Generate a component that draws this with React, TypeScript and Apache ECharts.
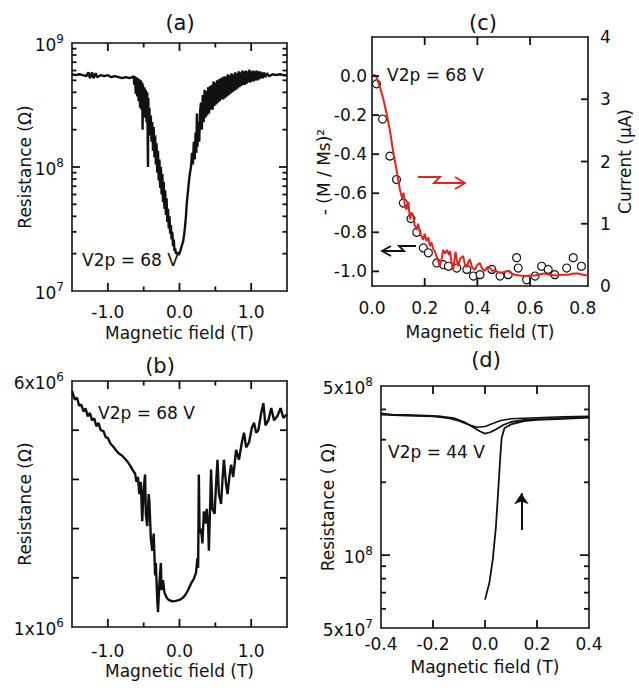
import React, { useEffect, useRef } from 'react';
import * as echarts from 'echarts';

const FONT = '"DejaVu Sans", "Liberation Sans", sans-serif';
const INK = '#111111';
const RED = '#e3241c';

// ---------- Panel (a): resistance vs field, V2p = 68 V ----------
const aFieldLabels = [-1, 0, 1];
const aResLabels = [1e7, 1e8, 1e9];
const aFieldMajor = [-1, 0, 1];
const aFieldMinor = [-0.5, 0.5];
const aResMajor = [1e8];
const aResMinor = [2e7, 3e7, 4e7, 5e7, 6e7, 7e7, 8e7, 9e7, 2e8, 3e8, 4e8, 5e8, 6e8, 7e8, 8e8, 9e8];
const aTrace: [number, number][] = [
  [-1.5, 5.6e8], [-1.45, 5.5e8], [-1.4, 5.6e8], [-1.35, 5.5e8], [-1.3, 5.4e8], [-1.27, 5.8e8], [-1.25, 5.2e8],
  [-1.22, 5.8e8], [-1.2, 5.2e8], [-1.17, 5.7e8], [-1.15, 5.3e8], [-1.1, 5.5e8], [-1.05, 5.4e8], [-1.0, 5.5e8],
  [-0.95, 5.3e8], [-0.9, 5.4e8], [-0.85, 5.3e8], [-0.8, 5.2e8], [-0.75, 5.3e8], [-0.7, 5.2e8], [-0.66, 5.3e8],
  [-0.64, 5.4e8], [-0.63, 4.6e8], [-0.62, 5.4e8], [-0.61, 3.9e8], [-0.6, 5.3e8], [-0.59, 3.7e8], [-0.58, 5.2e8],
  [-0.57, 3.4e8], [-0.56, 5.1e8], [-0.55, 3.0e8], [-0.54, 5.0e8], [-0.53, 2.9e8], [-0.52, 4.8e8], [-0.515, 2.0e8],
  [-0.51, 4.6e8], [-0.5, 2.7e8], [-0.49, 4.4e8], [-0.48, 2.5e8], [-0.47, 4.2e8], [-0.46, 2.3e8], [-0.45, 4.0e8],
  [-0.44, 1.0e8], [-0.435, 3.6e8], [-0.43, 2.0e8], [-0.42, 3.0e8], [-0.41, 1.8e8], [-0.4, 2.6e8], [-0.39, 1.6e8],
  [-0.38, 2.3e8], [-0.37, 1.35e8], [-0.36, 2.1e8], [-0.35, 1.2e8], [-0.34, 1.8e8], [-0.33, 1.05e8], [-0.32, 1.55e8],
  [-0.31, 9.0e7], [-0.3, 1.35e8], [-0.29, 7.8e7], [-0.28, 1.15e8], [-0.27, 6.8e7], [-0.26, 1.0e8], [-0.25, 6.0e7],
  [-0.24, 8.8e7], [-0.23, 5.2e7], [-0.22, 7.6e7], [-0.21, 4.6e7], [-0.2, 6.5e7], [-0.19, 4.1e7], [-0.18, 5.6e7],
  [-0.17, 3.6e7], [-0.16, 4.6e7], [-0.15, 3.2e7], [-0.14, 4.0e7], [-0.13, 2.9e7], [-0.12, 3.4e7], [-0.11, 2.6e7],
  [-0.1, 3.0e7], [-0.09, 2.3e7], [-0.08, 2.6e7], [-0.07, 2.1e7], [-0.06, 2.2e7], [-0.05, 2.0e7], [-0.03, 2.05e7],
  [-0.01, 1.95e7], [0.01, 2.1e7], [0.03, 2.3e7], [0.05, 2.5e7], [0.07, 3.0e7], [0.09, 4.0e7], [0.1, 5.0e7],
  [0.12, 6.5e7], [0.14, 8.5e7], [0.16, 1.0e8], [0.175, 1.3e8], [0.187, 1.05e8], [0.2, 1.6e8], [0.212, 1.15e8],
  [0.225, 1.9e8], [0.235, 1.3e8], [0.243, 2.7e8], [0.25, 1.45e8], [0.262, 2.3e8], [0.275, 1.6e8], [0.287, 2.8e8],
  [0.3, 3.3e8], [0.312, 2.0e8], [0.325, 3.8e8], [0.337, 2.3e8], [0.35, 4.2e8], [0.362, 2.5e8], [0.375, 4.1e8],
  [0.387, 2.6e8], [0.4, 4.4e8], [0.412, 2.7e8], [0.425, 4.5e8], [0.437, 2.9e8], [0.45, 4.6e8], [0.462, 2.9e8],
  [0.475, 4.9e8], [0.487, 3.1e8], [0.5, 4.8e8], [0.512, 3.2e8], [0.525, 5.0e8], [0.537, 3.3e8], [0.55, 5.1e8],
  [0.562, 3.4e8], [0.575, 5.2e8], [0.587, 3.5e8], [0.6, 5.3e8], [0.612, 3.5e8], [0.625, 5.4e8], [0.637, 3.6e8],
  [0.65, 5.4e8], [0.662, 3.7e8], [0.675, 5.6e8], [0.687, 3.8e8], [0.7, 5.5e8], [0.712, 3.9e8], [0.725, 5.7e8],
  [0.737, 4.0e8], [0.75, 5.6e8], [0.762, 4.1e8], [0.775, 5.8e8], [0.787, 4.2e8], [0.8, 5.7e8], [0.812, 4.3e8],
  [0.825, 5.9e8], [0.837, 4.4e8], [0.85, 5.8e8], [0.862, 4.5e8], [0.875, 6.0e8], [0.887, 4.6e8], [0.9, 5.9e8],
  [0.912, 4.6e8], [0.925, 6.0e8], [0.937, 4.7e8], [0.95, 5.9e8], [0.962, 4.8e8], [0.975, 6.1e8], [0.987, 4.8e8],
  [1.0, 5.9e8], [1.012, 4.9e8], [1.025, 6.0e8], [1.037, 4.9e8], [1.05, 5.9e8], [1.062, 5.0e8], [1.075, 6.0e8],
  [1.087, 5.0e8], [1.1, 5.9e8], [1.112, 5.1e8], [1.125, 5.9e8], [1.137, 5.2e8], [1.15, 5.8e8], [1.162, 5.2e8],
  [1.175, 5.8e8], [1.2, 5.3e8], [1.22, 5.7e8], [1.25, 5.4e8], [1.3, 5.6e8], [1.35, 5.5e8], [1.4, 5.6e8],
  [1.45, 5.5e8], [1.5, 5.5e8],
];

// ---------- Panel (b): resistance vs field (linear), V2p = 68 V ----------
const bResLabels = [1e6, 6e6];
const bResTicks = [2e6, 3e6, 4e6, 5e6];
const bTrace: [number, number][] = [
  [-1.5, 5.8e6], [-1.46, 5.62e6], [-1.43, 5.66e6], [-1.4, 5.5e6], [-1.37, 5.52e6], [-1.34, 5.38e6], [-1.31, 5.44e6],
  [-1.28, 5.28e6], [-1.25, 5.35e6], [-1.22, 5.2e6], [-1.19, 5.24e6], [-1.16, 5.08e6], [-1.13, 5.15e6], [-1.1, 5.0e6],
  [-1.06, 4.98e6], [-1.03, 4.86e6], [-1.0, 4.84e6], [-0.96, 4.72e6], [-0.92, 4.66e6], [-0.88, 4.58e6], [-0.84, 4.52e6],
  [-0.8, 4.48e6], [-0.76, 4.42e6], [-0.72, 4.35e6], [-0.68, 4.26e6], [-0.65, 4.18e6], [-0.62, 4.12e6], [-0.6, 3.95e6],
  [-0.58, 4.05e6], [-0.56, 3.7e6], [-0.54, 3.95e6], [-0.52, 3.15e6], [-0.5, 3.8e6], [-0.48, 4.1e6], [-0.47, 3.3e6],
  [-0.45, 3.05e6], [-0.43, 3.7e6], [-0.42, 3.55e6], [-0.4, 2.8e6], [-0.38, 2.55e6], [-0.36, 2.9e6], [-0.34, 2.05e6],
  [-0.33, 2.3e6], [-0.31, 1.55e6], [-0.3, 1.3e6], [-0.28, 1.9e6], [-0.26, 2.3e6], [-0.25, 1.75e6], [-0.23, 1.95e6],
  [-0.21, 1.7e6], [-0.18, 1.6e6], [-0.15, 1.55e6], [-0.1, 1.52e6], [-0.05, 1.53e6], [0.0, 1.55e6], [0.05, 1.6e6],
  [0.08, 1.65e6], [0.12, 1.75e6], [0.16, 1.88e6], [0.2, 1.98e6], [0.23, 2.1e6], [0.25, 2.4e6], [0.26, 2.2e6],
  [0.27, 4.1e6], [0.28, 2.9e6], [0.3, 3.0e6], [0.32, 2.7e6], [0.34, 3.35e6], [0.36, 3.1e6], [0.38, 3.4e6],
  [0.4, 3.05e6], [0.41, 2.55e6], [0.43, 3.6e6], [0.44, 4.2e6], [0.46, 3.4e6], [0.49, 3.3e6], [0.51, 3.9e6],
  [0.53, 4.4e6], [0.55, 3.7e6], [0.58, 3.5e6], [0.6, 4.0e6], [0.62, 4.4e6], [0.65, 3.9e6], [0.67, 3.7e6],
  [0.7, 4.1e6], [0.72, 4.3e6], [0.75, 4.05e6], [0.79, 4.6e6], [0.83, 4.4e6], [0.87, 4.75e6], [0.9, 4.95e6],
  [0.93, 4.65e6], [0.97, 4.75e6], [1.01, 5.05e6], [1.04, 5.15e6], [1.07, 4.95e6], [1.1, 5.0e6], [1.14, 5.35e6],
  [1.17, 5.55e6], [1.2, 5.1e6], [1.24, 5.2e6], [1.28, 5.45e6], [1.32, 5.2e6], [1.37, 5.3e6], [1.41, 5.45e6],
  [1.45, 5.25e6], [1.5, 5.32e6],
];

// ---------- Panel (c): -(M/Ms)^2 (circles, left) and current (red, right) ----------
const cFieldLabels = [0, 0.2, 0.4, 0.6, 0.8];
const cFieldTicks = [0.2, 0.4, 0.6];
const cMagLabels = [-1.0, -0.8, -0.6, -0.4, -0.2, 0.0];
const cCurLabels = [0, 1, 2, 3, 4];
const cCurTicks = [1, 2, 3];
const cMagField = [0.017, 0.04, 0.068, 0.093, 0.119, 0.148, 0.17, 0.195, 0.214, 0.246, 0.271, 0.29, 0.322, 0.36, 0.385,
  0.41, 0.455, 0.486, 0.517, 0.549, 0.555, 0.587, 0.619, 0.644, 0.669, 0.694, 0.739, 0.764, 0.795];
const cMagnetization = [-0.04, -0.22, -0.41, -0.53, -0.65, -0.73, -0.8, -0.88, -0.905, -0.957, -0.966, -0.974, -0.983,
  -0.99, -1.024, -1.017, -0.99, -1.024, -1.017, -0.93, -0.983, -1.043, -1.024, -0.974, -0.99, -1.017, -0.983, -0.93, -0.974];
const cCurrentTrace: [number, number][] = [
  [0.0, 3.4], [0.015, 3.38], [0.03, 3.2], [0.043, 3.0], [0.055, 2.78], [0.068, 2.5], [0.081, 2.14], [0.093, 1.87],
  [0.106, 1.55], [0.115, 1.4], [0.12, 1.5], [0.125, 1.28], [0.131, 1.23], [0.138, 1.35], [0.144, 1.07], [0.15, 1.18],
  [0.156, 1.14], [0.162, 0.98], [0.169, 0.9], [0.175, 1.0], [0.182, 0.86], [0.188, 0.8], [0.194, 0.74], [0.2, 0.84],
  [0.207, 0.72], [0.214, 0.78], [0.22, 0.64], [0.226, 0.7], [0.232, 0.6], [0.239, 0.55], [0.245, 0.48], [0.252, 0.4],
  [0.258, 0.32], [0.265, 0.45], [0.27, 0.58], [0.277, 0.52], [0.285, 0.58], [0.292, 0.5], [0.296, 0.56], [0.302, 0.38],
  [0.308, 0.26], [0.317, 0.55], [0.322, 0.42], [0.327, 0.32], [0.335, 0.44], [0.346, 0.48], [0.352, 0.36], [0.359, 0.3],
  [0.365, 0.38], [0.371, 0.43], [0.38, 0.3], [0.39, 0.26], [0.4, 0.34], [0.409, 0.37], [0.418, 0.28], [0.428, 0.24],
  [0.437, 0.3], [0.447, 0.3], [0.456, 0.24], [0.466, 0.26], [0.478, 0.22], [0.491, 0.21], [0.504, 0.23], [0.517, 0.24],
  [0.53, 0.2], [0.542, 0.18], [0.56, 0.17], [0.58, 0.16], [0.6, 0.17], [0.618, 0.17], [0.637, 0.19], [0.656, 0.2],
  [0.675, 0.18], [0.694, 0.17], [0.72, 0.18], [0.745, 0.18], [0.765, 0.2], [0.782, 0.2], [0.8, 0.18], [0.82, 0.17],
];

// ---------- Panel (d): resistance vs field, V2p = 44 V ----------
const dFieldLabels = [-0.4, -0.2, 0, 0.2, 0.4];
const dFieldTicks = [-0.2, 0, 0.2];
const dResLabels = [5e7, 1e8, 5e8];
const dResMajor = [1e8];
const dResMinor = [6e7, 7e7, 8e7, 9e7, 2e8, 3e8, 4e8];
const dSweepDown: [number, number][] = [
  [0.4, 3.72e8], [0.35, 3.7e8], [0.3, 3.68e8], [0.25, 3.66e8], [0.2, 3.65e8], [0.15, 3.62e8], [0.1, 3.55e8],
  [0.07, 3.45e8], [0.04, 3.3e8], [0.02, 3.22e8], [0.0, 3.18e8], [-0.02, 3.25e8], [-0.05, 3.4e8], [-0.08, 3.55e8],
  [-0.12, 3.68e8], [-0.18, 3.75e8], [-0.25, 3.78e8], [-0.3, 3.8e8], [-0.35, 3.8e8], [-0.4, 3.85e8],
];
const dSweepUp: [number, number][] = [
  [-0.4, 3.8e8], [-0.3, 3.77e8], [-0.2, 3.74e8], [-0.14, 3.68e8], [-0.1, 3.58e8], [-0.06, 3.45e8], [-0.03, 3.38e8],
  [0.0, 3.4e8], [0.03, 3.5e8], [0.06, 3.6e8], [0.1, 3.66e8], [0.2, 3.7e8], [0.3, 3.73e8], [0.4, 3.75e8],
];
const dInitial: [number, number][] = [
  [0.0, 6.55e7], [0.017, 7.7e7], [0.03, 9.6e7], [0.042, 1.31e8], [0.051, 1.86e8], [0.059, 2.57e8], [0.064, 3.05e8],
  [0.075, 3.35e8], [0.1, 3.47e8], [0.15, 3.58e8], [0.2, 3.62e8], [0.3, 3.66e8], [0.4, 3.7e8],
];
const dArrowField = 0.14;
const dArrowFrom = 1.27e8;
const dArrowTo = 1.8e8;

// ---------- Layout / axis extents ----------
type Ax = { min: number; max: number; size: number; log: boolean };
const AX = {
  ax: { min: -1.5, max: 1.5, size: 215, log: false },
  ay: { min: 1e7, max: 1e9, size: 248, log: true },
  bx: { min: -1.5, max: 1.5, size: 215, log: false },
  by: { min: 1e6, max: 6e6, size: 246, log: false },
  cx: { min: 0, max: 0.82, size: 216, log: false },
  cy: { min: -1.075, max: 0.2, size: 249, log: false },
  cy2: { min: 0, max: 4, size: 249, log: false },
  dx: { min: -0.4, max: 0.4, size: 208, log: false },
  dy: { min: 5e7, max: 5e8, size: 242, log: true },
};
type Panel = { left: number; top: number; xa: Ax; ya: Ax };
const PANEL_A: Panel = { left: 72, top: 43, xa: AX.ax, ya: AX.ay };
const PANEL_B: Panel = { left: 72, top: 381, xa: AX.bx, ya: AX.by };
const PANEL_C: Panel = { left: 372, top: 37, xa: AX.cx, ya: AX.cy };
const PANEL_D: Panel = { left: 381, top: 386, xa: AX.dx, ya: AX.dy };

// Fraction of the way along an axis (linear or log10), for placing inward tick marks.
function frac(v: number, a: Ax): number {
  if (a.log) return (Math.log10(v) - Math.log10(a.min)) / (Math.log10(a.max) - Math.log10(a.min));
  return (v - a.min) / (a.max - a.min);
}
const TW = 1.8;
function tickRect(x: number, y: number, w: number, h: number): any {
  return { type: 'rect', z: 90, silent: true, shape: { x, y, width: w, height: h }, style: { fill: INK } };
}
function xTickRects(p: Panel, values: number[], len: number): any[] {
  const out: any[] = [];
  const bottom = p.top + p.ya.size;
  for (const v of values) {
    const x = p.left + frac(v, p.xa) * p.xa.size;
    out.push(tickRect(x - TW / 2, bottom - len, TW, len));
    out.push(tickRect(x - TW / 2, p.top, TW, len));
  }
  return out;
}
function yTickRects(p: Panel, ya: Ax, values: number[], len: number, left = true, right = true): any[] {
  const out: any[] = [];
  const rightX = p.left + p.xa.size;
  for (const v of values) {
    const y = p.top + ya.size - frac(v, ya) * ya.size;
    if (left) out.push(tickRect(p.left, y - TW / 2, len, TW));
    if (right) out.push(tickRect(rightX - len, y - TW / 2, len, TW));
  }
  return out;
}

function sci(v: number, forceMantissa: boolean): string {
  const e = Math.floor(Math.log10(v) + 1e-9);
  const m = Math.round(v / Math.pow(10, e));
  return '{b|' + (m === 1 && !forceMantissa ? '' : m + 'x') + '10}{s|' + e + '}';
}
const fixed1 = (v: number) => (Math.abs(v) < 1e-9 ? 0 : v).toFixed(1);

const axisLineStyle = { color: INK, width: 1.6 };
const labelBase = { color: INK, fontFamily: FONT, fontSize: 17 };
const nameBase = { color: INK, fontFamily: FONT, fontSize: 17 };
const richSup = {
  b: { color: INK, fontFamily: FONT, fontSize: 17, verticalAlign: 'bottom' },
  s: { color: INK, fontFamily: FONT, fontSize: 12, verticalAlign: 'bottom', padding: [0, 0, 8, 0] },
};

function xAxis(grid: number, pos: 'bottom' | 'top', a: Ax, labels?: number[], margin = 10, nameGap = 32): any {
  const hasLabels = pos === 'bottom';
  return {
    gridIndex: grid, position: pos, type: 'value', min: a.min, max: a.max,
    axisLine: { show: true, onZero: false, lineStyle: axisLineStyle },
    axisTick: { show: false },
    axisLabel: hasLabels
      ? { ...labelBase, show: true, customValues: labels, formatter: fixed1, margin, hideOverlap: false }
      : { show: false },
    splitLine: { show: false },
    name: hasLabels ? 'Magnetic field (T)' : '',
    nameLocation: 'middle', nameGap, nameTextStyle: nameBase, nameMoveOverlap: false,
  };
}

function yAxis(grid: number, pos: 'left' | 'right', a: Ax, labels?: number[], fmt?: (v: number) => string,
  name = '', nameGap = 39, margin = 8): any {
  return {
    gridIndex: grid, position: pos, type: a.log ? 'log' : 'value', min: a.min, max: a.max,
    ...(a.log ? { logBase: 10 } : {}),
    axisLine: { show: true, onZero: false, lineStyle: axisLineStyle },
    axisTick: { show: false },
    axisLabel: labels
      ? { ...labelBase, show: true, customValues: labels, formatter: fmt, margin, hideOverlap: false, rich: richSup }
      : { show: false },
    splitLine: { show: false },
    minorTick: { show: false },
    name, nameLocation: 'middle', nameGap, nameTextStyle: nameBase, nameMoveOverlap: false,
  };
}

function txt(text: string, x: number, y: number, size: number, align = 'left', color = INK, rotation = 0): any {
  return {
    type: 'text', x, y, rotation, z: 100,
    style: {
      text, fill: color, font: `${size}px ${FONT}`,
      align, textAlign: align, verticalAlign: 'middle', textVerticalAlign: 'middle',
    },
  };
}

function poly(points: number[][], color: string, width = 1.8): any {
  return { type: 'polyline', z: 100, shape: { points }, style: { stroke: color, lineWidth: width, fill: null } };
}

const tickGraphics: any[] = [
  ...xTickRects(PANEL_A, aFieldMajor, 8), ...xTickRects(PANEL_A, aFieldMinor, 4.5),
  ...yTickRects(PANEL_A, AX.ay, aResMajor, 8), ...yTickRects(PANEL_A, AX.ay, aResMinor, 4.5),
  ...xTickRects(PANEL_B, aFieldMajor, 8), ...xTickRects(PANEL_B, aFieldMinor, 4.5),
  ...yTickRects(PANEL_B, AX.by, bResTicks, 7),
  ...xTickRects(PANEL_C, cFieldTicks, 8),
  ...yTickRects(PANEL_C, AX.cy, cMagLabels, 7, true, false),
  ...yTickRects(PANEL_C, AX.cy2, cCurTicks, 7, false, true),
  ...xTickRects(PANEL_D, dFieldTicks, 8),
  ...yTickRects(PANEL_D, AX.dy, dResMajor, 9), ...yTickRects(PANEL_D, AX.dy, dResMinor, 5),
];

export default function App() {
  const ref = useRef<HTMLDivElement>(null);
  useEffect(() => {
    if (!ref.current) return;
    const chart = echarts.init(ref.current, undefined, { renderer: 'svg' });
    const option: any = {
      animation: false,
      backgroundColor: '#ffffff',
      textStyle: { fontFamily: FONT, color: INK },
      grid: [PANEL_A, PANEL_B, PANEL_C, PANEL_D].map((p) => ({
        left: p.left, top: p.top, width: p.xa.size, height: p.ya.size, containLabel: false, outerBoundsMode: 'none',
      })),
      xAxis: [
        xAxis(0, 'bottom', AX.ax, aFieldLabels, 12, 33),
        xAxis(0, 'top', AX.ax),
        xAxis(1, 'bottom', AX.bx, aFieldLabels, 15, 35),
        xAxis(1, 'top', AX.bx),
        xAxis(2, 'bottom', AX.cx, cFieldLabels, 13, 37),
        xAxis(2, 'top', AX.cx),
        xAxis(3, 'bottom', AX.dx, dFieldLabels, 7, 30),
        xAxis(3, 'top', AX.dx),
      ],
      yAxis: [
        yAxis(0, 'left', AX.ay, aResLabels, (v: number) => sci(v, false), 'Resistance (Ω)', 39),
        yAxis(0, 'right', AX.ay),
        yAxis(1, 'left', AX.by, bResLabels, (v: number) => sci(v, true), 'Resistance (Ω)', 39),
        yAxis(1, 'right', AX.by),
        yAxis(2, 'left', AX.cy, cMagLabels, fixed1, '', 30, 5),
        yAxis(2, 'right', AX.cy2, cCurLabels, (v: number) => String(Math.round(v)), 'Current (μA)', 28, 12),
        yAxis(3, 'left', AX.dy, dResLabels, (v: number) => sci(v, false), 'Resistance ( Ω)', 45),
        yAxis(3, 'right', AX.dy),
      ],
      series: [
        {
          type: 'line', xAxisIndex: 0, yAxisIndex: 0, data: aTrace, symbol: 'none', showSymbol: false,
          lineStyle: { color: INK, width: 2.4 }, clip: true,
        },
        {
          type: 'line', xAxisIndex: 2, yAxisIndex: 2, data: bTrace, symbol: 'none', showSymbol: false,
          lineStyle: { color: INK, width: 2.4 }, clip: true,
        },
        {
          type: 'scatter', xAxisIndex: 4, yAxisIndex: 4,
          data: cMagField.map((x, i) => [x, cMagnetization[i]]),
          symbol: 'circle', symbolSize: 8,
          itemStyle: { color: '#ffffff', borderColor: INK, borderWidth: 1.2, opacity: 1 },
          z: 2,
        },
        {
          type: 'line', xAxisIndex: 4, yAxisIndex: 5, data: cCurrentTrace, symbol: 'none', showSymbol: false,
          lineStyle: { color: RED, width: 2 }, clip: true, z: 3,
        },
        {
          type: 'line', xAxisIndex: 6, yAxisIndex: 6, data: dSweepDown, symbol: 'none', showSymbol: false,
          lineStyle: { color: INK, width: 1.8 },
        },
        {
          type: 'line', xAxisIndex: 6, yAxisIndex: 6, data: dSweepUp, symbol: 'none', showSymbol: false,
          lineStyle: { color: INK, width: 1.5 },
        },
        {
          type: 'line', xAxisIndex: 6, yAxisIndex: 6, data: dInitial, symbol: 'none', showSymbol: false,
          lineStyle: { color: INK, width: 1.8 },
          markLine: {
            silent: true, symbol: ['none', 'arrow'], symbolSize: 11,
            label: { show: false },
            lineStyle: { color: INK, width: 2, type: 'solid' },
            data: [[{ coord: [dArrowField, dArrowFrom] }, { coord: [dArrowField, dArrowTo] }]],
          },
        },
      ],
      graphic: [
        txt('(a)', 180, 23, 21, 'center'),
        txt('(c)', 483, 23, 21, 'center'),
        txt('(b)', 160, 366, 21, 'center'),
        txt('(d)', 486, 360, 21, 'center'),
        txt('V2p = 68 V', 82, 260, 17),
        txt('V2p = 68 V', 98, 413, 17),
        txt('V2p = 68 V', 387, 75, 17),
        txt('V2p = 44 V', 388, 452, 17),
        txt('- (M / Ms)²', 324, 172, 17, 'center', INK, Math.PI / 2),
        poly([[418, 177], [440, 177], [434, 183], [464, 183]], RED),
        poly([[455, 177], [465, 183], [455, 189]], RED),
        poly([[382, 251], [404, 251], [399, 246], [416, 246]], INK),
        poly([[391, 246], [382, 251], [391, 256]], INK),
        ...tickGraphics,
      ],
    };
    chart.setOption(option);
    return () => chart.dispose();
  }, []);
  return <div ref={ref} style={{ position: 'fixed', left: 0, top: 0, width: 639, height: 688, background: '#fff' }} />;
}
